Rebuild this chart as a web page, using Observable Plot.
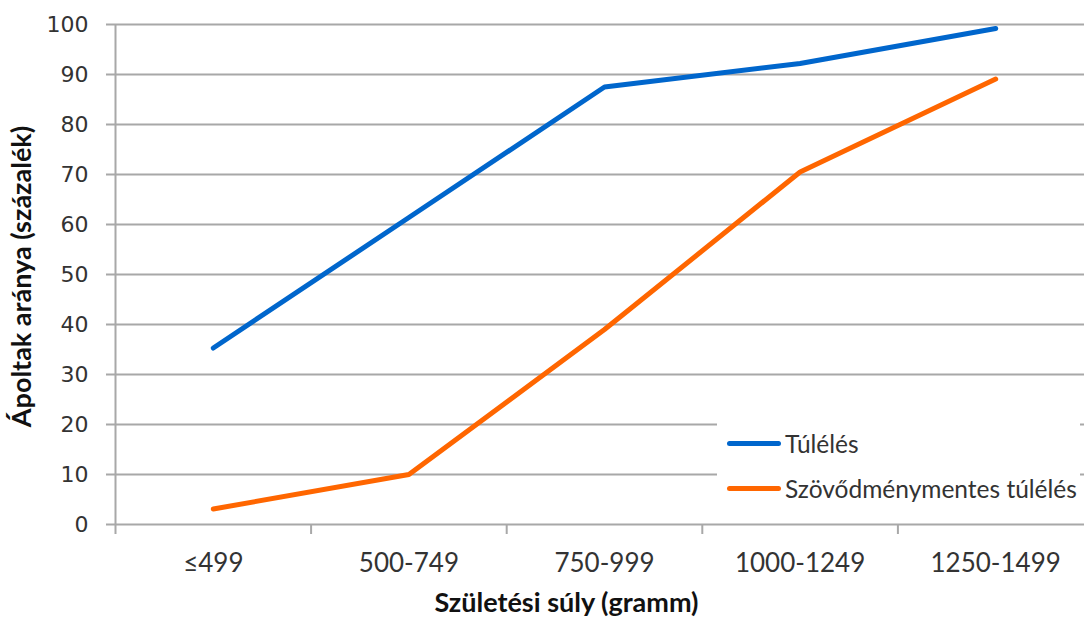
<!DOCTYPE html>
<html>
<head>
<meta charset="utf-8">
<script src="https://cdn.jsdelivr.net/npm/d3@7"></script>
<script src="https://cdn.jsdelivr.net/npm/@observablehq/plot@0.6"></script>
<style>
  html, body { margin: 0; padding: 0; background: #fff; overflow: hidden; }
  #wrap { position: relative; width: 1086px; height: 617px; }
  #legend { position: absolute; left: 717px; top: 419px; width: 363px; height: 92px; background: #fff;
            font-family: Lato, "Liberation Sans", sans-serif; font-size: 24.5px; color: #333; }
  .item { position: absolute; left: 10px; display: flex; align-items: center; height: 30px; white-space: nowrap; }
  .sw { width: 54px; height: 5px; border-radius: 3px; margin-right: 4px; }
</style>
</head>
<body>
<div id="wrap"></div>
<script>
// ---- data ----
const categories = ["≤499", "500-749", "750-999", "1000-1249", "1250-1499"];
const survival = [35.3, 61.4, 87.5, 92.2, 99.2];
const complicationFree = [3.1, 10.0, 39.0, 70.5, 89.1];
const seriesNames = ["Túlélés", "Szövődménymentes túlélés"];
const seriesColors = ["#0066cc", "#ff6600"];
const yTicks = [0, 10, 20, 30, 40, 50, 60, 70, 80, 90, 100];
const xTitle = "Születési súly (gramm)";
const yTitle = "Ápoltak aránya (százalék)";

const rows = categories.flatMap((c, i) => [
  {i, cat: c, series: seriesNames[0], v: survival[i]},
  {i, cat: c, series: seriesNames[1], v: complicationFree[i]}
]);
const boundaries = categories.slice(0, -1).map((c, i) => i + 0.5);

const grid = "#a8a8a8";
const chart = Plot.plot({
  width: 1086,
  height: 617,
  marginTop: 24,
  marginBottom: 93,
  marginLeft: 114,
  marginRight: 2,
  style: {background: "#fff", overflow: "hidden"},
  x: {domain: [-0.5, categories.length - 0.5], range: [115, 1093], axis: null},
  y: {domain: [0, 100], axis: null},
  color: {domain: seriesNames, range: seriesColors},
  marks: [
    Plot.ruleY(yTicks, {stroke: grid, strokeWidth: 2, insetLeft: -8}),
    Plot.ruleX([-0.5], {stroke: grid, strokeWidth: 2, insetBottom: -10}),
    Plot.axisX({ticks: boundaries, tickSize: 10, tickFormat: () => "", stroke: grid, strokeWidth: 2, label: null}),
    Plot.axisX({ticks: d3.range(categories.length), tickSize: 0, tickPadding: 29,
      tickFormat: i => categories[i], fontSize: 26, fontFamily: "Lato", fill: "#333", label: null}),
    Plot.axisY({ticks: yTicks, tickSize: 0, tickPadding: 26, fontSize: 22,
      fontFamily: "DejaVu Sans", fill: "#333", label: null}),
    Plot.line(rows, {x: "i", y: "v", z: "series", stroke: "series", strokeWidth: 5,
      strokeLinecap: "round", strokeLinejoin: "round"}),
    Plot.text([yTitle], {frameAnchor: "left", textAnchor: "middle", lineAnchor: "middle",
      rotate: -90, dx: -92, dy: 2, fontSize: 27, fontWeight: "bold", fontFamily: "Lato", fill: "#111"}),
    Plot.text([xTitle], {frameAnchor: "bottom", textAnchor: "middle", lineAnchor: "middle",
      dy: 79, dx: -33, fontSize: 27, fontWeight: "bold", fontFamily: "Lato", fill: "#111"})
  ]
});
const wrap = document.getElementById("wrap");
wrap.appendChild(chart);

const legend = document.createElement("div");
legend.id = "legend";
seriesNames.forEach((name, k) => {
  const item = document.createElement("div");
  item.className = "item";
  item.style.top = (9 + k * 45) + "px";
  const sw = document.createElement("div");
  sw.className = "sw";
  sw.style.background = seriesColors[k];
  const t = document.createElement("span");
  t.textContent = name;
  item.appendChild(sw);
  item.appendChild(t);
  legend.appendChild(item);
});
wrap.appendChild(legend);
</script>
</body>
</html>
